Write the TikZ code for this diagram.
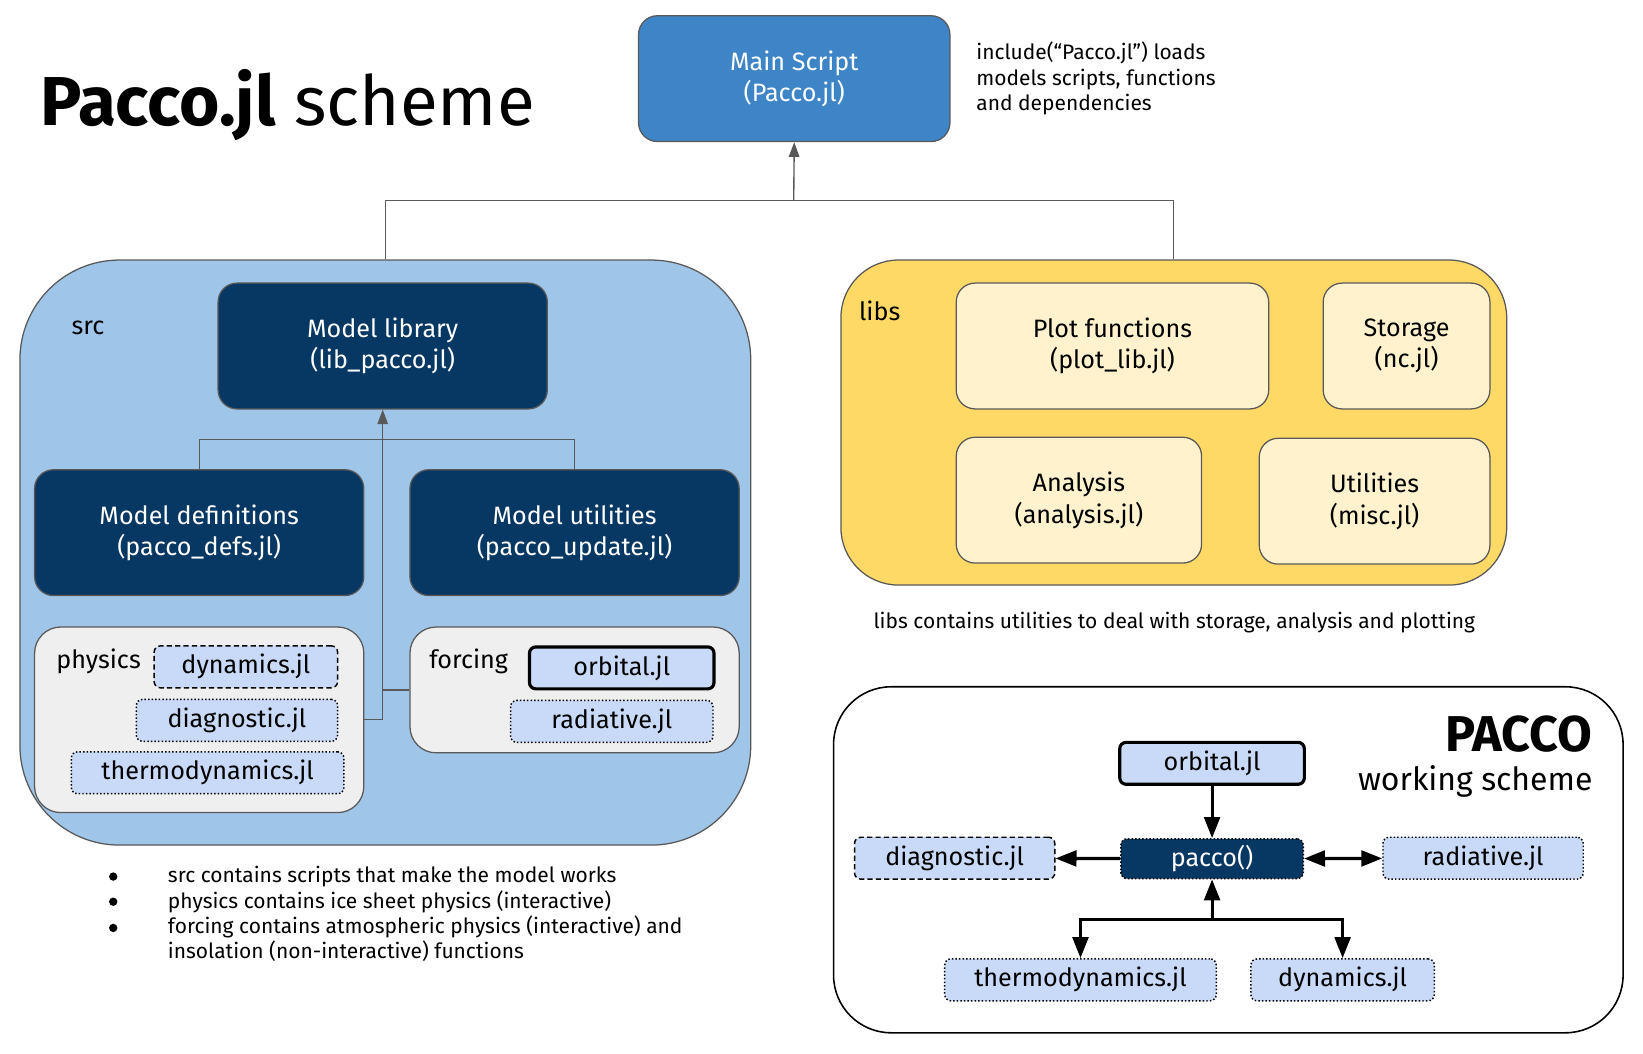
\documentclass[tikz,border=0pt]{standalone}
\usepackage{fontspec}
\setmainfont{Fira Sans}
\usetikzlibrary{arrows.meta,positioning}

\definecolor{mainblue}{HTML}{3D85C6}
\definecolor{srcblue}{HTML}{9FC5E8}
\definecolor{navy}{HTML}{073763}
\definecolor{filebg}{HTML}{C9DAF8}
\definecolor{greybg}{HTML}{EFEFEF}
\definecolor{libsyellow}{HTML}{FFD966}
\definecolor{libcream}{HTML}{FFF2CC}
\definecolor{edge}{HTML}{595959}

\begin{document}
\begin{tikzpicture}
[x=1pt,y=-1pt,
box/.style={draw=edge,line width=1.2pt,rounded corners=18pt,align=center,inner sep=0pt,
  font=\fontsize{24}{30}\selectfont},
navybox/.style={box,fill=navy,text=white,minimum width=314pt,minimum height=120pt},
creambox/.style={box,fill=libcream,minimum height=120pt},
group/.style={draw=edge,line width=1.2pt,inner sep=0pt},
grouplabel/.style={font=\fontsize{24}{26}\selectfont,inner sep=0pt},
file/.style={fill=filebg,draw=black,line width=1.4pt,rounded corners=6pt,inner sep=0pt,
  minimum height=40pt,font=\fontsize{24}{26}\selectfont},
dashfile/.style={file,dash pattern=on 5pt off 3pt},
dotfile/.style={file,dotted},
thickfile/.style={file,line width=3pt},
link/.style={draw=edge,line width=1.3pt},
linkarrow/.style={link,-{Triangle[length=14pt,width=10pt]}},
bold/.style={line width=3pt,-{Triangle[length=20pt,width=15pt]}},
small/.style={font=\fontsize{20}{24.5}\selectfont,align=left,inner sep=0pt},
dot/.style={circle,fill=black,inner sep=0pt,minimum size=8pt}]

\useasboundingbox (0,0) rectangle (1567,1005);

\node[anchor=west,inner sep=0pt] (title) at (38,100) {\fontsize{66}{66}\selectfont\textbf{Pacco.jl} scheme};

\node[box,fill=mainblue,text=white,minimum width=297pt,minimum height=120pt] (main) at (757.5,75) {Main Script\\(Pacco.jl)};
\node[small,anchor=west] (note) at (931,75) {include(“Pacco.jl”) loads\\models scripts, functions\\and dependencies};

% src
\node[group,fill=srcblue,rounded corners=95pt,minimum width=697pt,minimum height=558pt] (src) at (367.5,527) {};
\node[grouplabel] (srclabel) at (84,313) {src};

\node[navybox] (lib) at (365,330) {Model library\\(lib\_pacco.jl)};
\node[navybox] (defs) at (190,508) {Model definitions\\(pacco\_defs.jl)};
\node[navybox] (upd) at (548,508) {Model utilities\\(pacco\_update.jl)};

\node[group,fill=greybg,rounded corners=25pt,minimum width=314pt,minimum height=177pt] (phys) at (190,686.5) {};
\node[grouplabel] (physlabel) at (94,631) {physics};
\node[dashfile,minimum width=175pt] (dyn) at (234.5,636) {dynamics.jl};
\node[dotfile,minimum width=192pt] (diag) at (226,687) {diagnostic.jl};
\node[dotfile,minimum width=260pt] (thermo) at (198,737) {thermodynamics.jl};

\node[group,fill=greybg,rounded corners=25pt,minimum width=314pt,minimum height=120pt] (forc) at (548,658) {};
\node[grouplabel] (forclabel) at (447,631) {forcing};
\node[thickfile,minimum width=176pt] (orb) at (593,637) {orbital.jl};
\node[dotfile,minimum width=193pt] (rad) at (583.5,688) {radiative.jl};

\coordinate (mid) at (365,419);
\draw[link] (defs.north) |- (mid) -| (upd.north);
\draw[linkarrow] (phys.east) -| (lib.south);
\draw[link] (forc.west) -- (forc.west -| lib.south);

% libs
\node[group,fill=libsyellow,rounded corners=55pt,minimum width=635pt,minimum height=310pt] (libs) at (1119.5,403) {};
\node[grouplabel] (libslabel) at (839,296) {libs};
\node[creambox,minimum width=298pt] (plot) at (1061,330) {Plot functions\\(plot\_lib.jl)};
\node[creambox,minimum width=159pt] (stor) at (1341.5,330) {Storage\\(nc.jl)};
\node[creambox,minimum width=234pt] (anal) at (1029,477) {Analysis\\(analysis.jl)};
\node[creambox,minimum width=220pt] (util) at (1311,478) {Utilities\\(misc.jl)};
\node[small] (libsnote) at (1120,594) {libs contains utilities to deal with storage, analysis and plotting};

\coordinate (top) at (757,191);
\draw[link] (src.north) |- (top) -| (libs.north);
\draw[linkarrow] (top) -- (main.south);

% notes
\foreach \y in {836,860,885} \node[dot] at (108,\y) {};
\node[small,anchor=west] (b1) at (160,836) {src contains scripts that make the model works};
\node[small,anchor=west] (b2) at (160,860) {physics contains ice sheet physics (interactive)};
\node[small,anchor=north west] (b3) at (160,873) {forcing contains atmospheric physics (interactive) and\\insolation (non-interactive) functions};

% working scheme
\node[draw=black,line width=1.5pt,rounded corners=55pt,minimum width=753pt,minimum height=330pt,inner sep=0pt] (work) at (1171.5,820) {};
\node[anchor=east,inner sep=0pt] (workT) at (1519,700) {\fontsize{48}{48}\selectfont\textbf{PACCO}};
\node[anchor=east,inner sep=0pt] (workS) at (1519,745) {\fontsize{30.5}{30.5}\selectfont working scheme};

\node[thickfile,minimum width=176pt] (w-orb) at (1156,728) {orbital.jl};
\node[dotfile,fill=navy,text=white,minimum width=174pt,minimum height=38pt] (w-pacco) at (1156,819) {pacco()};
\node[dashfile,minimum width=191pt] (w-diag) at (910.5,818.5) {diagnostic.jl};
\node[dotfile,minimum width=191pt] (w-rad) at (1414.5,818.5) {radiative.jl};
\node[dotfile,minimum width=259pt] (w-thermo) at (1030.5,934.5) {thermodynamics.jl};
\node[dotfile,minimum width=175pt] (w-dyn) at (1280.5,934.5) {dynamics.jl};

\coordinate (split) at (1156,877);
\draw[bold] (w-orb) -- (w-pacco);
\draw[bold] (w-pacco) -- (w-diag);
\draw[bold,{Triangle[length=20pt,width=15pt]}-{Triangle[length=20pt,width=15pt]}] (w-pacco) -- (w-rad);
\draw[bold] (split) -- (w-pacco);
\draw[bold] (split) -| (w-thermo.north);
\draw[bold] (split) -| (w-dyn.north);
\end{tikzpicture}
\end{document}
